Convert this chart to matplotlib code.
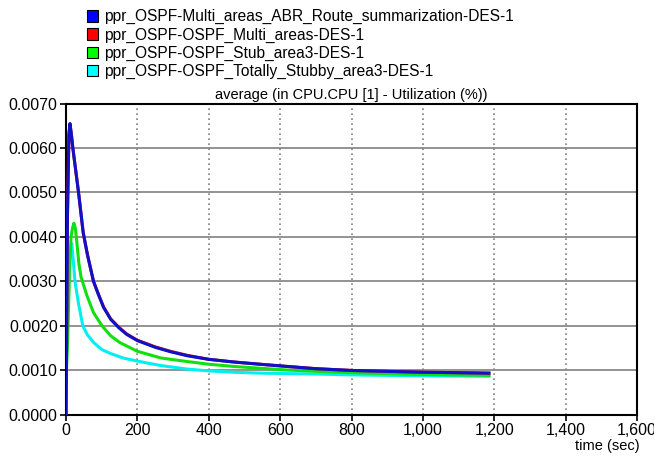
import matplotlib.pyplot as plt
from matplotlib.patches import Patch
from matplotlib.ticker import FuncFormatter

plt.rcParams['font.family'] = ['Liberation Sans', 'DejaVu Sans']

# --- series (time in sec, CPU utilization in %) ---
blue_t = [0, 4, 8, 11, 15, 19, 27, 35, 48, 60, 77, 90, 105, 125, 148, 170, 200, 250, 293, 340,
          400, 470, 543, 620, 700, 800, 900, 1000, 1100, 1185]
blue_v = [0.0, 0.0045, 0.0063, 0.00655, 0.0063, 0.0060, 0.0055, 0.0050, 0.0041, 0.0036, 0.0030,
          0.00272, 0.00242, 0.00215, 0.00196, 0.00181, 0.00167, 0.00152, 0.00142, 0.00133,
          0.00125, 0.00119, 0.00114, 0.00109, 0.00104, 0.00100, 0.00098, 0.00096, 0.00095, 0.00094]

red_t = [0, 4, 8, 11, 15, 19, 27, 35, 48, 60, 77, 90, 105, 125, 148, 170, 200, 250, 293, 340,
         400, 470, 543, 620, 700, 800, 900, 1000, 1100, 1185]
red_v = [0.0, 0.0045, 0.0063, 0.00654, 0.0063, 0.0060, 0.0055, 0.0050, 0.0041, 0.0036, 0.0030,
         0.00273, 0.00243, 0.00216, 0.00197, 0.00182, 0.00168, 0.00153, 0.00143, 0.00134,
         0.00125, 0.00119, 0.00114, 0.00109, 0.00104, 0.00100, 0.00098, 0.00096, 0.00095, 0.00094]

green_t = [0, 5, 10, 14, 18, 22, 26, 30, 36, 42, 50, 59, 77, 101, 125, 150, 200, 266, 340,
           400, 470, 543, 620, 700, 800, 900, 1000, 1185]
green_v = [0.0008, 0.0018, 0.0033, 0.0040, 0.0042, 0.00431, 0.0042, 0.0039, 0.0034, 0.0031,
           0.0029, 0.00267, 0.0023, 0.0020, 0.00178, 0.00163, 0.00143, 0.00128, 0.0012,
           0.00114, 0.00109, 0.00105, 0.00101, 0.00098, 0.00095, 0.00093, 0.00091, 0.00089]

cyan_t = [0, 4, 8, 12, 16, 20, 25, 35, 47, 60, 77, 100, 125, 160, 200, 266, 340, 400, 470, 543,
          620, 700, 800, 900, 1000, 1185]
cyan_v = [0.0007, 0.0022, 0.0033, 0.0037, 0.00385, 0.0035, 0.0030, 0.0025, 0.0020, 0.0018,
          0.00163, 0.00147, 0.00138, 0.00128, 0.00121, 0.00111, 0.00103, 0.00099, 0.00096,
          0.00094, 0.00093, 0.00092, 0.0009, 0.00089, 0.00088, 0.00087]

labels = [
    "ppr_OSPF-Multi_areas_ABR_Route_summarization-DES-1",
    "ppr_OSPF-OSPF_Multi_areas-DES-1",
    "ppr_OSPF-OSPF_Stub_area3-DES-1",
    "ppr_OSPF-OSPF_Totally_Stubby_area3-DES-1",
]
legend_colors = ['#0000ff', '#ff0000', '#00ff00', '#00ffff']

x_ticks = [0, 200, 400, 600, 800, 1000, 1200, 1400, 1600]
y_ticks = [0.0, 0.001, 0.002, 0.003, 0.004, 0.005, 0.006, 0.007]

fig = plt.figure(figsize=(6.54, 4.58), dpi=100)
ax = fig.add_axes([0.101, 0.094, 0.873, 0.680])

# grid: solid horizontal, dotted vertical
for y in y_ticks:
    ax.axhline(y, color='#808080', lw=1.2, zorder=1)
for x in x_ticks:
    ax.axvline(x, color='#808080', lw=1.2, ls=(0, (1, 2)), zorder=1)

ax.plot(cyan_t, cyan_v, color='#00f0f0', lw=2.2, zorder=3)
ax.plot(green_t, green_v, color='#10e010', lw=2.2, zorder=4)
ax.plot(red_t, red_v, color='#e01010', lw=2.2, zorder=5)
ax.plot(blue_t, blue_v, color='#1010c8', lw=2.2, zorder=6)

ax.set_xlim(0, 1600)
ax.set_ylim(0, 0.007)
ax.set_xticks(x_ticks)
ax.set_yticks(y_ticks)
ax.xaxis.set_major_formatter(FuncFormatter(lambda v, p: f"{int(v):,}"))
ax.yaxis.set_major_formatter(FuncFormatter(lambda v, p: f"{v:.4f}"))
ax.tick_params(labelsize=11.5, length=4, width=1.2, direction='out', colors='black', pad=2)
for s in ax.spines.values():
    s.set_linewidth(1.5)

ax.set_title("average (in CPU.CPU [1] - Utilization (%))", fontsize=10.5, pad=3)
fig.text(0.978, 0.012, "time (sec)", ha='right', va='bottom', fontsize=10.5)

handles = [Patch(facecolor=c, edgecolor='black', lw=0.8) for c in legend_colors]
fig.legend(handles, labels, loc='upper left', bbox_to_anchor=(0.118, 1.0),
           frameon=False, fontsize=11.2, handlelength=0.75, handleheight=0.75,
           handletextpad=0.4, labelspacing=0.2, borderaxespad=0.2)

fig.savefig("out.png", dpi=100)
